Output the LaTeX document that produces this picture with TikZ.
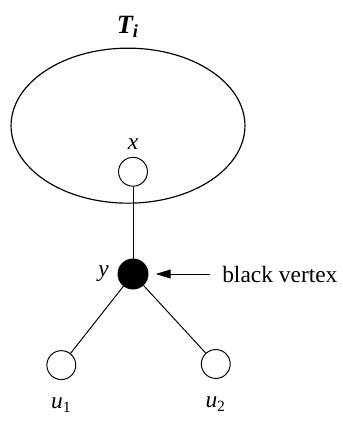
\documentclass[tikz,border=0pt]{standalone}
\usepackage{amsmath}
\usepackage{fontspec}
\setmainfont{Liberation Serif}
\usepackage{tikz}
\usetikzlibrary{shapes.geometric, arrows.meta, positioning}
\tikzset{
  vertex/.style={circle, draw=black, fill=white, minimum size=0.52cm,
    inner sep=0pt, line width=0.5pt},
  blackvertex/.style={circle, draw=black, fill=black, minimum size=0.54cm,
    inner sep=0pt, line width=0.5pt},
  subtree/.style={ellipse, draw=black, minimum width=4.21cm,
    minimum height=2.79cm, line width=0.6pt},
  vlabel/.style={font=\fontsize{12}{14}\selectfont, inner sep=0pt},
  arrow/.style={-{Triangle[length=0.27cm, width=0.16cm]}, line width=0.5pt},
  line/.style={line width=0.5pt}
}

\begin{document}
\begin{tikzpicture}

  % ── Canvas: same proportions as the reference ───────────────────────────
  \useasboundingbox (-2.394,-2.646) rectangle (3.78,4.932);

  % ── Subtree T_i ──────────────────────────────────────────────────────────
  \node[subtree] (tree) at (-0.09, 2.67) {};
  \node[vlabel, font=\fontsize{13.5}{16}\selectfont\bfseries\itshape]
       (tname) at (-0.09, 4.45) {T$_{\text{\bfseries\itshape i}}$};

  % ── Vertices ─────────────────────────────────────────────────────────────
  \node[vertex]      (x)  at (0, 1.84)     {};
  \node[blackvertex] (y)  at (0, 0)        {};
  \node[vertex]      (u1) at (-1.29, -1.64) {};
  \node[vertex]      (u2) at (1.49, -1.62)  {};

  % ── Vertex labels ────────────────────────────────────────────────────────
  \node[vlabel, above=0.12cm of x]  (xl)  {\textit{x}};
  \node[vlabel, left=0.15cm of y]   (yl)  {\textit{y}};
  \node[vlabel, below=0.32cm of u1] (u1l) {\textit{u}$_{\text{1}}$};
  \node[vlabel, below=0.32cm of u2] (u2l) {\textit{u}$_{\text{2}}$};

  % ── Edges ────────────────────────────────────────────────────────────────
  \draw[line] (x) -- (y);
  \draw[line] (y) -- (u1);
  \draw[line] (y) -- (u2);

  % ── Pointer to the black vertex ──────────────────────────────────────────
  \node[vlabel, anchor=west, inner xsep=0.21cm] (bv) at (1.39, 0)
       {black vertex};
  \draw[arrow, shorten >=0.13cm] (bv.west) -- (y);

\end{tikzpicture}
\end{document}
